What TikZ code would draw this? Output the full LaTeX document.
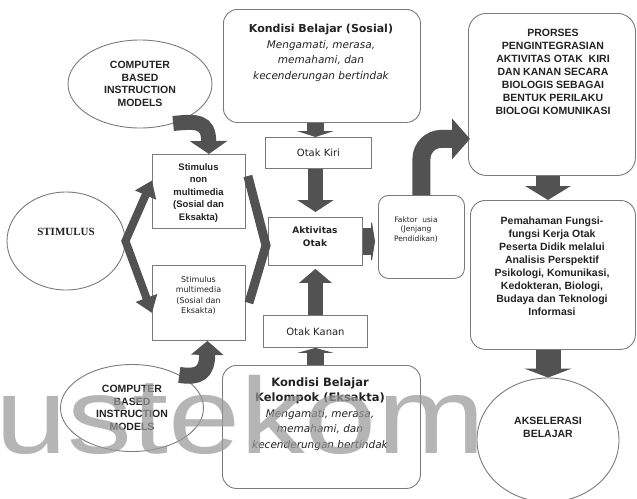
\documentclass[tikz,border=0pt]{standalone}
\usepackage{fontspec}
\setmainfont{Liberation Sans}
\newfontfamily\dvs{DejaVu Sans}
\newfontfamily\tms{Liberation Serif}
\usetikzlibrary{arrows.meta,calc,shapes.geometric}

\definecolor{arrowgrey}{HTML}{525252}
\definecolor{edgegrey}{HTML}{7A7A7A}
\definecolor{markgrey}{HTML}{999999}
\definecolor{inkgrey}{HTML}{222222}

\tikzset{
  box/.style={draw=edgegrey, line width=0.9pt, rectangle, inner sep=0pt, anchor=north west},
  rbox/.style={box, rounded corners=#1},
  rbox/.default=14pt,
  oval/.style={draw=edgegrey, line width=0.9pt, ellipse, inner sep=0pt},
  txt/.style={align=center, inner sep=0pt, text=inkgrey},
  fat/.style={draw=arrowgrey, line width=#1, line join=miter},
  cbifont/.style={font=\bfseries\fontsize{10.5}{12.7}\selectfont},
  condfont/.style={font=\dvs\fontsize{10.5}{15.5}\selectfont},
  capsfont/.style={font=\bfseries\fontsize{10.5}{13}\selectfont},
}

\begin{document}
\begin{tikzpicture}[x=1pt,y=-1pt]
\useasboundingbox (0,0) rectangle (637,498);

% ---- ellipses
\node[oval, minimum width=144pt, minimum height=88pt, txt, cbifont] (cbi1) at (140,84)
  {COMPUTER\\BASED\\INSTRUCTION\\MODELS};
\node[oval, minimum width=143pt, minimum height=87pt, txt, cbifont] (cbi2) at (132,408)
  {COMPUTER\\BASED\\INSTRUCTION\\MODELS};
\node[oval, minimum width=118pt, minimum height=98pt] (stim) at (66,241) {};
\node[txt, font=\tms\bfseries\fontsize{11}{13}\selectfont] (stimtext) at (66,232) {STIMULUS};
\node[oval, minimum width=142pt, minimum height=124pt] (aks) at (548,440) {};
\node[txt, capsfont] (akstext) at (548,427) {AKSELERASI\\BELAJAR};

% ---- stimulus boxes
\node[box, minimum width=93pt, minimum height=74pt] (snm) at (152,154) {};
\node[txt, font=\bfseries\fontsize{9.5}{12.5}\selectfont] (snmtext) at (198.5,193)
  {Stimulus\\non\\multimedia\\(Sosial dan\\Eksakta)};
\node[box, minimum width=93pt, minimum height=75pt] (sm) at (152,265) {};
\node[txt, font=\dvs\fontsize{8}{10.3}\selectfont] (smtext) at (198.5,295.5)
  {Stimulus\\multimedia\\(Sosial dan\\Eksakta)};

% ---- learning conditions
\node[rbox, minimum width=197pt, minimum height=113pt] (kos) at (223,9) {};
\node[txt, condfont] (kostext) at (321,53)
  {{\bfseries\fontsize{11}{15}\selectfont Kondisi Belajar (Sosial)}\\
   {\itshape Mengamati, merasa,}\\{\itshape memahami, dan}\\{\itshape kecenderungan bertindak}};
\node[rbox, minimum width=198pt, minimum height=123pt] (koe) at (222,365) {};
\node[txt, condfont] (koetext) at (320,414)
  {{\bfseries\fontsize{11.5}{15}\selectfont Kondisi Belajar}\\
   {\bfseries\fontsize{11.5}{15}\selectfont Kelompok (Eksakta)}\\
   {\itshape Mengamati, merasa,}\\{\itshape memahami, dan}\\{\itshape kecenderungan bertindak}};

% ---- brain boxes
\node[box, minimum width=106pt, minimum height=31pt, txt, font=\dvs\fontsize{10}{12}\selectfont]
  (oki) at (265,137) {Otak Kiri};
\node[box, minimum width=94pt, minimum height=48pt] (akt) at (268,217) {};
\node[txt, font=\dvs\bfseries\fontsize{9}{13}\selectfont] (akttext) at (315,236.5) {Aktivitas\\Otak};
\node[box, minimum width=104pt, minimum height=32pt, txt, font=\dvs\fontsize{10}{12}\selectfont]
  (oka) at (263,315) {Otak Kanan};

% ---- age factor
\node[rbox=10pt, minimum width=86pt, minimum height=83pt] (fak) at (378,195) {};
\node[txt, font=\dvs\fontsize{7.5}{9.7}\selectfont] (faktext) at (416,229.5)
  {Faktor\ \ usia\\(Jenjang\\Pendidikan)};

% ---- right column
\node[rbox=18pt, minimum width=167pt, minimum height=162pt] (pro) at (468,13) {};
\node[txt, capsfont] (protext) at (553,72)
  {PRORSES\\PENGINTEGRASIAN\\AKTIVITAS OTAK\ \ KIRI\\DAN KANAN SECARA\\BIOLOGIS SEBAGAI\\BENTUK PERILAKU\\BIOLOGI KOMUNIKASI};
\node[rbox=15pt, minimum width=165pt, minimum height=149pt] (pem) at (470,200) {};
\node[txt, capsfont] (pemtext) at (552,266)
  {Pemahaman Fungsi-\\fungsi Kerja Otak\\Peserta Didik melalui\\Analisis Perspektif\\Psikologi, Komunikasi,\\Kedokteran, Biologi,\\Budaya dan Teknologi\\Informasi};

% ---- block arrows
\draw[fat=15pt, -{Triangle[width=37pt,length=13pt]}]
  (cbi1.-50) .. controls (197,121) and (208.5,121) .. ($(snm.north)+(10,0)$);
\draw[fat=16pt, -{Triangle[width=32pt,length=14pt]}]
  (cbi2.35) .. controls (199,378) and (207,373) .. ($(sm.south)+(8.5,0)$);
\draw[fat=8pt, {Triangle[width=22pt,length=16pt]}-{Triangle[width=22pt,length=16pt]}]
  ($(snm.west)+(0,-11)$) -- (stim.east) -- ($(sm.west)+(0,10)$);
\draw[fat=9pt]
  ($(snm.north east)+(2,22)$) -- ($(akt.west)+(-2,4)$) -- ($(sm.east)+(3,0)$);

\draw[fat=17pt, -{Triangle[width=37pt,length=6pt]}]
  ($(oki.north |- kos.south)+(-3,0)$) -- ($(oki.north)+(-3,0)$);
\draw[fat=15pt, -{Triangle[width=36pt,length=12pt]}]
  (akt.north |- oki.south) -- ($(akt.north)+(0,-5)$);
\draw[fat=15pt, -{Triangle[width=32pt,length=14pt]}]
  (akt.south |- oka.north) -- ($(akt.south)+(0,3)$);
\draw[fat=17pt, -{Triangle[width=36pt,length=5pt]}]
  (oka.south |- koe.north) -- (oka.south);
\draw[fat=27pt, -{Triangle[width=50pt,length=4pt]}]
  (akt.east) -- ($(akt.east -| fak.west)+(-3,0)$);
\draw[fat=18pt, rounded corners=20pt, -{Triangle[width=40pt,length=18pt]}]
  (fak.north) |- ($(pro.south west)+(2,-37)$);
\draw[fat=24pt, -{Triangle[width=45pt,length=14pt]}]
  ($(pro.south)+(-4,0)$) -- ($(pem.north)+(-5,0)$);
\draw[fat=25pt, -{Triangle[width=47pt,length=9pt]}]
  (aks.north |- pem.south) -- (aks.north);

% ---- watermark lettering across the lower half
\node[anchor=base west, inner sep=0pt, text=markgrey, text opacity=0.72,
  font=\fontsize{108}{108}\selectfont, xscale=1.2, transform shape] (mark) at (-5,453) {ustekom};
\end{tikzpicture}
\end{document}
